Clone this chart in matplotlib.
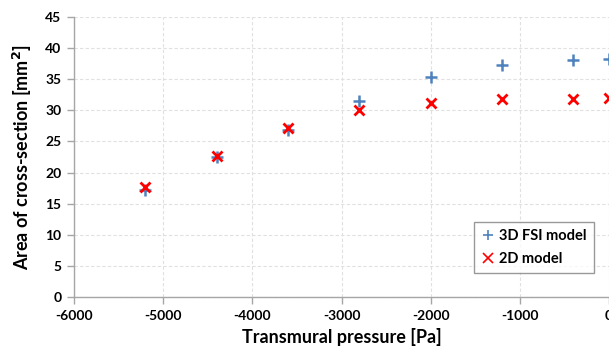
import matplotlib
matplotlib.use("Agg")
import matplotlib.pyplot as plt

pressure = [-5200, -4400, -3600, -2800, -2000, -1200, -400, 0]
area_3d = [17.2, 22.5, 26.8, 31.5, 35.3, 37.3, 38.1, 38.3]
area_2d = [17.6, 22.6, 27.2, 30.0, 31.1, 31.8, 31.9, 32.0]
x_ticks = [-6000, -5000, -4000, -3000, -2000, -1000, 0]
y_ticks = [0, 5, 10, 15, 20, 25, 30, 35, 40, 45]

plt.rcParams['font.family'] = ['Lato', 'DejaVu Sans']

fig = plt.figure(figsize=(6.09, 3.56), dpi=100)
ax = fig.add_axes([74/609, 1 - 297/356, (609 - 74)/609, (297 - 17)/356])

ax.plot(pressure, area_3d, linestyle='none', marker='+', color='#4F81BD',
        markersize=8.5, markeredgewidth=1.8, label='3D FSI model', clip_on=False, zorder=3)
ax.plot(pressure, area_2d, linestyle='none', marker='x', color='#FF0000',
        markersize=7.5, markeredgewidth=2.0, label='2D model', clip_on=False, zorder=3)

ax.set_xlim(-6000, 0)
ax.set_ylim(0, 45)
ax.set_xticks(x_ticks)
ax.set_yticks(y_ticks)
ax.set_xticklabels([str(t) for t in x_ticks], fontsize=10, fontweight='bold')
ax.set_yticklabels([str(t) for t in y_ticks], fontsize=10, fontweight='bold')

ax.grid(True, color='#E0E0E0', linestyle=(0, (3, 2)), linewidth=0.8)
ax.set_axisbelow(True)
for s in ['top', 'right']:
    ax.spines[s].set_visible(False)
for s in ['left', 'bottom']:
    ax.spines[s].set_color('#A6A6A6')
    ax.spines[s].set_linewidth(1.0)
ax.tick_params(axis='both', color='#A6A6A6', length=5, width=1.0, pad=4)

ax.set_xlabel('Transmural pressure [Pa]', fontsize=13, fontweight='bold', labelpad=5)
ax.set_ylabel('Area of cross-section [mm$^\\mathbf{2}$]', fontsize=13, fontweight='bold', labelpad=8)

leg = ax.legend(loc='lower right', bbox_to_anchor=(0.985, 0.06),
                prop={'weight': 'bold', 'size': 10.5}, frameon=True, fancybox=False,
                edgecolor='#808080', handlelength=0.9, handletextpad=0.3,
                borderpad=0.5, labelspacing=0.6, markerscale=0.9)
leg.get_frame().set_linewidth(1.0)
for h in leg.legend_handles:
    h.set_markeredgewidth(1.2)

fig.savefig('out.png', dpi=100)
